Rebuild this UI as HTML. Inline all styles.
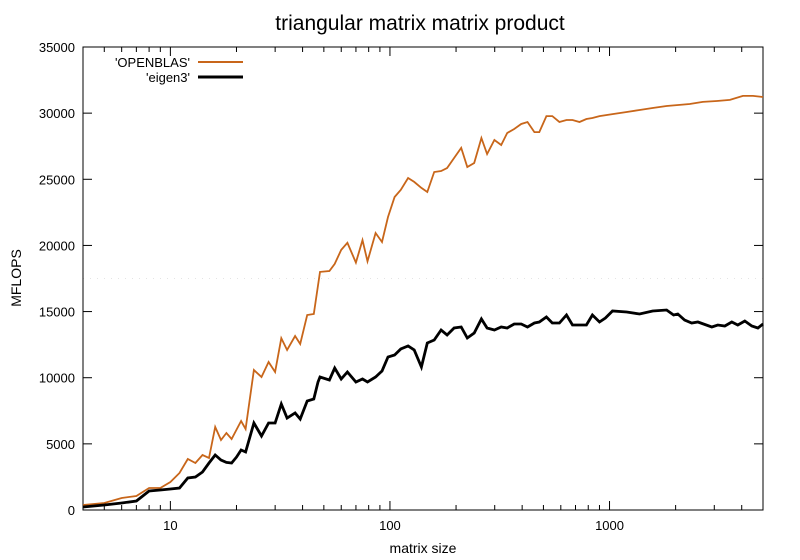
<!DOCTYPE html>
<html><head><meta charset="utf-8"><style>
body{margin:0;background:#fff}
svg{display:block;font-family:"Liberation Sans",sans-serif}
</style></head><body>
<svg id="chart" width="800" height="560">
<rect width="800" height="560" fill="#fff"/>
<text x="420" y="30" font-size="21" text-anchor="middle">triangular matrix matrix product</text>
<text x="423" y="553" font-size="14" text-anchor="middle">matrix size</text>
<text x="21" y="278" font-size="14" text-anchor="middle" transform="rotate(-90 21 278)">MFLOPS</text>
<g id="grid"></g><g id="axes"></g><g id="series"></g>
<g>
<text x="190" y="67" font-size="13" text-anchor="end">'OPENBLAS'</text>
<line x1="198" y1="62" x2="243" y2="62" stroke="#c8661a" stroke-width="2"/>
<text x="190" y="82" font-size="13" text-anchor="end">'eigen3'</text>
<line x1="198" y1="77" x2="243" y2="77" stroke="#000" stroke-width="3"/>
</g>
</svg>
<script>
const yTicks=[0,5000,10000,15000,20000,25000,30000,35000];
const xTickDecades=[10,100,1000];
const xTickLabels=["10","100","1000"];
const openblasSizes=[4,5,6,7,8,9,10,11,12,13,14,15,16,17,18,19,21,22,24,26,28,30,32,34,37,39,42,45,48,53,56,60,64,70,75,79,86,92,98,105,112,121,129,139,148,159,171,182,196,211,225,242,261,277,299,321,342,368,396,423,455,479,516,549,591,637,678,730,785,836,900,1032,1197,1371,1571,1820,2088,2319,2660,3083,3535,4050,4500,5000];
const openblasValues=[378,530,907,1058,1663,1663,2117,2797,3856,3553,4158,3931,6275,5292,5821,5368,6728,6124,10584,10055,11189,10433,12984,12096,13154,12550,14742,14818,18000,18070,18600,19660,20200,18700,20400,18800,20940,20260,22150,23660,24200,25100,24800,24350,24040,25550,25630,25850,26610,27370,25930,26230,28120,26910,27970,27590,28500,28800,29180,29330,28570,28570,29780,29780,29330,29480,29480,29330,29560,29630,29780,29930,30090,30240,30390,30540,30620,30690,30850,30920,31000,31300,31300,31220];
const eigenSizes=[4,5,6,7,8,9,10,11,12,13,14,15,16,17,18,19,20,21,22,24,26,28,30,32,34,37,39,42,45,47,48,53,56,60,64,70,75,79,86,92,98,105,112,121,129,139,148,159,171,182,196,211,225,242,261,277,299,321,342,368,396,423,455,479,516,549,591,637,678,785,836,900,958,1032,1197,1371,1572,1820,1958,2046,2198,2367,2526,2923,3112,3350,3606,3839,4132,4446,4740,5000];
const eigenValues=[227,378,530,680,1436,1512,1587,1663,2419,2495,2873,3553,4158,3780,3600,3553,4000,4536,4385,6577,5594,6577,6577,8014,6955,7333,6880,8240,8391,9676,10055,9828,10735,9903,10433,9676,9903,9676,10055,10508,11567,11718,12172,12398,12096,10810,12625,12852,13608,13230,13759,13834,13003,13381,14440,13759,13608,13834,13759,14062,14062,13834,14137,14213,14591,14137,14137,14742,13986,13986,14742,14213,14515,15044,14969,14818,15044,15120,14742,14818,14364,14137,14213,13834,13986,13910,14213,13986,14288,13910,13759,14062];
const L=83,R=763,T=47,B=510,XMIN=4,XMAX=5000,YMAX=35000;
const NS="http://www.w3.org/2000/svg";
function sx(v){return L+(Math.log10(v)-Math.log10(XMIN))/(Math.log10(XMAX)-Math.log10(XMIN))*(R-L);}
function sy(v){return B-v/YMAX*(B-T);}
function mk(tag,attrs,parent){const e=document.createElementNS(NS,tag);for(const k in attrs)e.setAttribute(k,attrs[k]);parent.appendChild(e);return e;}
const axes=document.getElementById('axes');
const grid=document.getElementById('grid');
const gl=mk('line',{x1:L,x2:R,y1:sy(17500),y2:sy(17500),stroke:'#e4e4e4','stroke-width':1,'stroke-dasharray':'1,6'},grid);


const frame=mk('rect',{x:L,y:T,width:R-L,height:B-T,fill:'none',stroke:'#000','stroke-width':1},axes);


yTicks.forEach(v=>{
  const y=sy(v);
  mk('line',{x1:L,x2:L+9,y1:y,y2:y,stroke:'#000'},axes);
  mk('line',{x1:R-9,x2:R,y1:y,y2:y,stroke:'#000'},axes);
  const t=mk('text',{x:L-8,y:y+5,'font-size':13,'text-anchor':'end'},axes);
  t.textContent=v;
  
  
});
for(let d=1;d<=1000;d*=10){for(let m=1;m<10;m++){const v=d*m;if(v<XMIN||v>XMAX)continue;const x=sx(v);const len=(m===1)?9:5;
  mk('line',{x1:x,x2:x,y1:B,y2:B-len,stroke:'#000'},axes);
  mk('line',{x1:x,x2:x,y1:T,y2:T+len,stroke:'#000'},axes);}}
xTickDecades.forEach((v,i)=>{
  const t=mk('text',{x:sx(v),y:B+20,'font-size':13,'text-anchor':'middle'},axes);
  t.textContent=xTickLabels[i];
  
  
});
const series=document.getElementById('series');
function line(xs,ys,color,w,name){
  const p=xs.map((x,i)=>sx(x).toFixed(1)+','+sy(ys[i]).toFixed(1)).join(' ');
  const el=mk('polyline',{points:p,fill:'none',stroke:color,'stroke-width':w,'stroke-linejoin':'miter'},series);
  
  
}
line(openblasSizes,openblasValues,'#c8661a',1.8,'openblas-line');
line(eigenSizes,eigenValues,'#000',2.8,'eigen3-line');
</script>
</body></html>
